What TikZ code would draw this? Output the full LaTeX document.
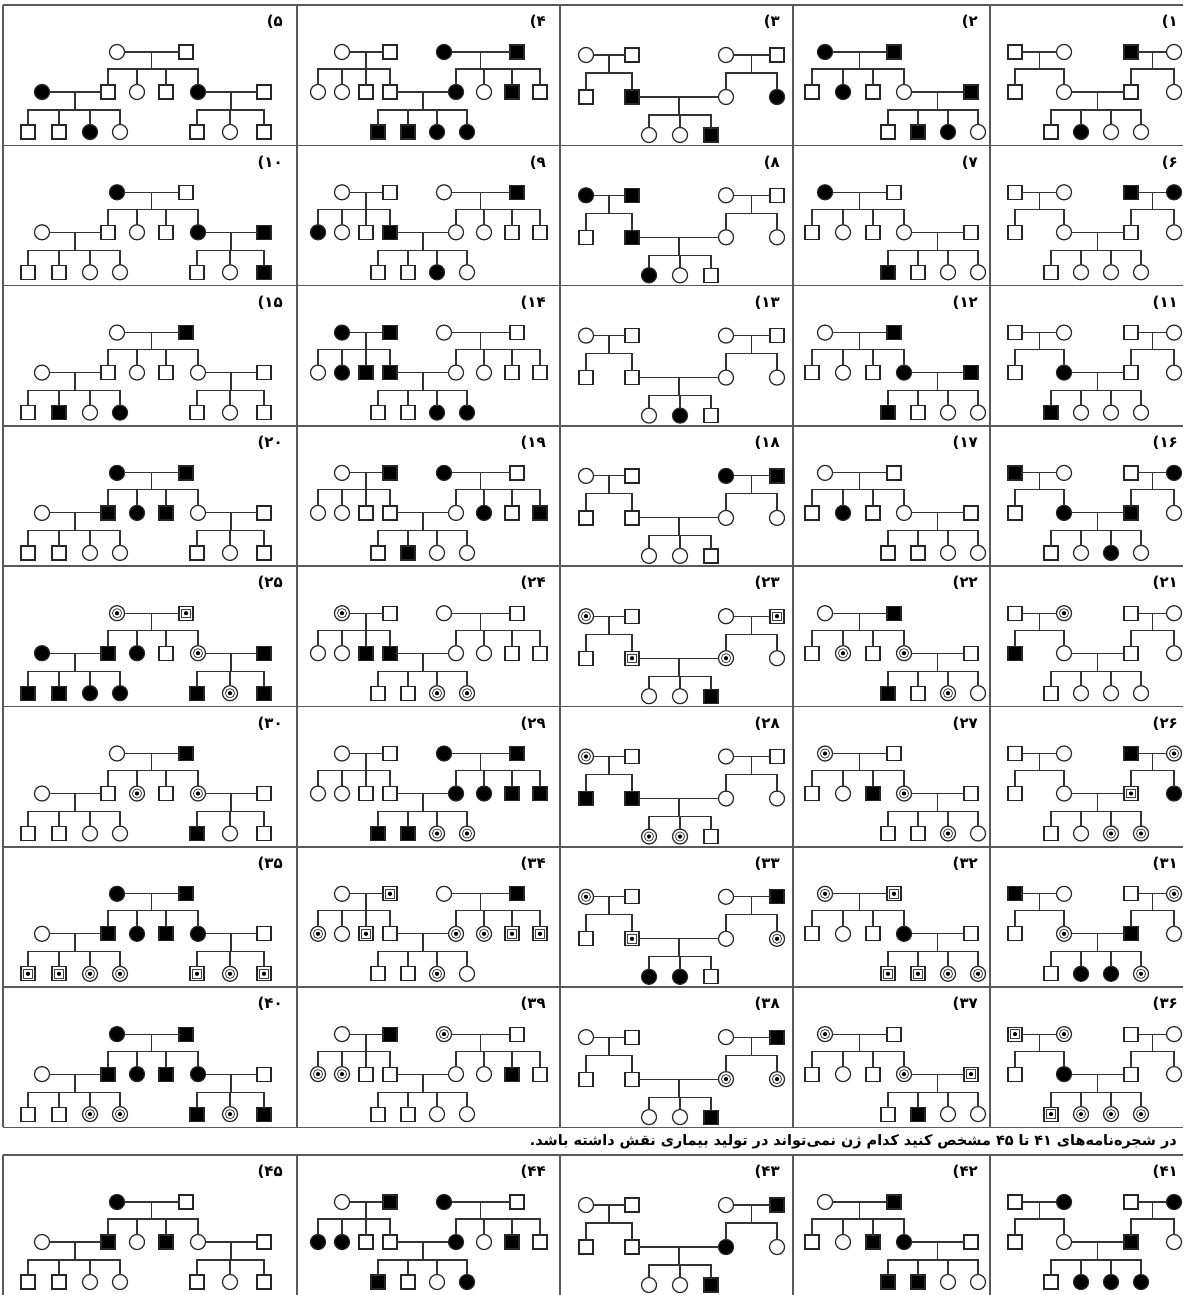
\documentclass[tikz,border=0pt]{standalone}
\usepackage{fontspec}
\usetikzlibrary{calc}
\newfontfamily\fa[Script=Arabic]{DejaVu Sans}
\newfontfamily\fd{DejaVu Sans}
\TeXXeTstate=1
\makeatletter
\newcount\pidx
\def\setcodes#1{\pidx=0 \setcodes@#1\relax}
\def\setcodes@#1{\ifx#1\relax\else\advance\pidx by 1\relax\expandafter\def\csname st\the\pidx\endcsname{#1}\expandafter\setcodes@\fi}
\makeatother
\tikzset{
 base/.style={draw=black!85, line width=1.2pt, inner sep=0pt, outer sep=0pt},
 Mw/.style={base, rectangle, minimum size=14pt, fill=white},
 Ma/.style={base, rectangle, minimum size=14pt, fill=black},
 Mc/.style={Mw, path picture={\draw[line width=0.8pt, draw=black!75, fill=none] (path picture bounding box.center) +(-4.3pt,-4.3pt) rectangle +(4.3pt,4.3pt); \fill[fill=black] (path picture bounding box.center) circle (2.1pt);}},
 Fw/.style={base, circle, minimum size=15pt, fill=white},
 Fa/.style={base, circle, minimum size=15pt, fill=black},
 Fc/.style={Fw, path picture={\draw[line width=0.8pt, draw=black!75, fill=none] (path picture bounding box.center) circle (4.6pt); \fill[fill=black] (path picture bounding box.center) circle (2.1pt);}},
 ln/.style={draw=black!80, line width=1.1pt, line cap=rect},
 lab/.style={font=\fd\bfseries\fontsize{15}{17}\selectfont, anchor=east, inner sep=0pt},
 gridln/.style={draw=black!65, line width=1.6pt}
}
\newcommand\sy[5]{\edef\tmpnode{\noexpand\node[#1\csname st#2\endcsname] (#5) at (#3,#4) {};}\tmpnode}
\newcommand\cpl[2]{\draw[ln] (#1) -- (#2);}
\newcommand\pfam[6]{%
 \coordinate (fm) at ($(#1)!0.5!(#2)$);
 \draw[ln] (fm) -- (fm |- 0,#3);
 \draw[ln] (#4.north |- 0,#3) -- (#5.north |- 0,#3);
 \foreach \k in {#6}{\draw[ln] (\k.north) -- (\k.north |- 0,#3);}}
% column 1 template
\newcommand\pedA[4]{\setcodes{#3}%
 \sy{M}{1}{1015}{#2+47}{p#1-1}\sy{F}{2}{1064}{#2+47}{p#1-2}
 \sy{M}{3}{1131}{#2+47}{p#1-3}\sy{F}{4}{1174}{#2+47}{p#1-4}
 \sy{M}{5}{1015}{#2+87}{p#1-5}\sy{F}{6}{1064}{#2+87}{p#1-6}
 \sy{M}{7}{1131}{#2+87}{p#1-7}\sy{F}{8}{1174}{#2+87}{p#1-8}
 \sy{M}{9}{1051}{#2+127}{p#1-9}\sy{F}{10}{1081}{#2+127}{p#1-10}
 \sy{F}{11}{1111}{#2+127}{p#1-11}\sy{F}{12}{1141}{#2+127}{p#1-12}
 \cpl{p#1-1}{p#1-2}\cpl{p#1-3}{p#1-4}\cpl{p#1-6}{p#1-7}
 \pfam{p#1-1}{p#1-2}{#2+64}{p#1-5}{p#1-6}{p#1-5,p#1-6}
 \pfam{p#1-3}{p#1-4}{#2+64}{p#1-7}{p#1-8}{p#1-7,p#1-8}
 \pfam{p#1-6}{p#1-7}{#2+105}{p#1-9}{p#1-12}{p#1-9,p#1-10,p#1-11,p#1-12}
 \node[lab] (L#1) at (1178,#2+17) {(#4};}
% column 2 template
\newcommand\pedB[4]{\setcodes{#3}%
 \sy{F}{1}{825}{#2+47}{p#1-1}\sy{M}{2}{894}{#2+47}{p#1-2}
 \sy{M}{3}{812}{#2+87}{p#1-3}\sy{F}{4}{843}{#2+87}{p#1-4}
 \sy{M}{5}{873}{#2+87}{p#1-5}\sy{F}{6}{904}{#2+87}{p#1-6}
 \sy{M}{7}{971}{#2+87}{p#1-7}
 \sy{M}{8}{888}{#2+127}{p#1-8}\sy{M}{9}{918}{#2+127}{p#1-9}
 \sy{F}{10}{948}{#2+127}{p#1-10}\sy{F}{11}{978}{#2+127}{p#1-11}
 \cpl{p#1-1}{p#1-2}\cpl{p#1-6}{p#1-7}
 \pfam{p#1-1}{p#1-2}{#2+64}{p#1-3}{p#1-6}{p#1-3,p#1-4,p#1-5,p#1-6}
 \pfam{p#1-6}{p#1-7}{#2+105}{p#1-8}{p#1-11}{p#1-8,p#1-9,p#1-10,p#1-11}
 \node[lab] (L#1) at (978,#2+17) {(#4};}
% column 3 template
\newcommand\pedC[4]{\setcodes{#3}%
 \sy{F}{1}{586}{#2+50}{p#1-1}\sy{M}{2}{632}{#2+50}{p#1-2}
 \sy{F}{3}{726}{#2+50}{p#1-3}\sy{M}{4}{777}{#2+50}{p#1-4}
 \sy{M}{5}{586}{#2+92}{p#1-5}\sy{M}{6}{632}{#2+92}{p#1-6}
 \sy{F}{7}{726}{#2+92}{p#1-7}\sy{F}{8}{777}{#2+92}{p#1-8}
 \sy{F}{9}{649}{#2+130}{p#1-9}\sy{F}{10}{680}{#2+130}{p#1-10}
 \sy{M}{11}{711}{#2+130}{p#1-11}
 \cpl{p#1-1}{p#1-2}\cpl{p#1-3}{p#1-4}\cpl{p#1-6}{p#1-7}
 \pfam{p#1-1}{p#1-2}{#2+68}{p#1-5}{p#1-6}{p#1-5,p#1-6}
 \pfam{p#1-3}{p#1-4}{#2+68}{p#1-7}{p#1-8}{p#1-7,p#1-8}
 \pfam{p#1-6}{p#1-7}{#2+110}{p#1-9}{p#1-11}{p#1-9,p#1-10,p#1-11}
 \node[lab] (L#1) at (780,#2+17) {(#4};}
% column 4 template
\newcommand\pedD[4]{\setcodes{#3}%
 \sy{F}{1}{342}{#2+47}{p#1-1}\sy{M}{2}{390}{#2+47}{p#1-2}
 \sy{F}{3}{444}{#2+47}{p#1-3}\sy{M}{4}{517}{#2+47}{p#1-4}
 \sy{F}{5}{318}{#2+87}{p#1-5}\sy{F}{6}{342}{#2+87}{p#1-6}
 \sy{M}{7}{366}{#2+87}{p#1-7}\sy{M}{8}{390}{#2+87}{p#1-8}
 \sy{F}{9}{456}{#2+87}{p#1-9}\sy{F}{10}{484}{#2+87}{p#1-10}
 \sy{M}{11}{512}{#2+87}{p#1-11}\sy{M}{12}{540}{#2+87}{p#1-12}
 \sy{M}{13}{378}{#2+127}{p#1-13}\sy{M}{14}{408}{#2+127}{p#1-14}
 \sy{F}{15}{437}{#2+127}{p#1-15}\sy{F}{16}{467}{#2+127}{p#1-16}
 \cpl{p#1-1}{p#1-2}\cpl{p#1-3}{p#1-4}\cpl{p#1-8}{p#1-9}
 \pfam{p#1-1}{p#1-2}{#2+64}{p#1-5}{p#1-8}{p#1-5,p#1-6,p#1-7,p#1-8}
 \pfam{p#1-3}{p#1-4}{#2+64}{p#1-9}{p#1-12}{p#1-9,p#1-10,p#1-11,p#1-12}
 \pfam{p#1-8}{p#1-9}{#2+105}{p#1-13}{p#1-16}{p#1-13,p#1-14,p#1-15,p#1-16}
 \node[lab] (L#1) at (546,#2+17) {(#4};}
% column 5 template
\newcommand\pedE[4]{\setcodes{#3}%
 \sy{F}{1}{117}{#2+47}{p#1-1}\sy{M}{2}{186}{#2+47}{p#1-2}
 \sy{F}{3}{42}{#2+87}{p#1-3}\sy{M}{4}{108}{#2+87}{p#1-4}
 \sy{F}{5}{137}{#2+87}{p#1-5}\sy{M}{6}{166}{#2+87}{p#1-6}
 \sy{F}{7}{198}{#2+87}{p#1-7}\sy{M}{8}{264}{#2+87}{p#1-8}
 \sy{M}{9}{28}{#2+127}{p#1-9}\sy{M}{10}{59}{#2+127}{p#1-10}
 \sy{F}{11}{90}{#2+127}{p#1-11}\sy{F}{12}{120}{#2+127}{p#1-12}
 \sy{M}{13}{197}{#2+127}{p#1-13}\sy{F}{14}{230}{#2+127}{p#1-14}
 \sy{M}{15}{264}{#2+127}{p#1-15}
 \cpl{p#1-1}{p#1-2}\cpl{p#1-3}{p#1-4}\cpl{p#1-7}{p#1-8}
 \pfam{p#1-1}{p#1-2}{#2+64}{p#1-4}{p#1-7}{p#1-4,p#1-5,p#1-6,p#1-7}
 \pfam{p#1-3}{p#1-4}{#2+105}{p#1-9}{p#1-12}{p#1-9,p#1-10,p#1-11,p#1-12}
 \pfam{p#1-7}{p#1-8}{#2+105}{p#1-13}{p#1-15}{p#1-13,p#1-14,p#1-15}
 \node[lab] (L#1) at (283,#2+17) {(#4};}
\def\rowA{5}\def\rowB{145.3}\def\rowC{285.6}\def\rowD{425.9}\def\rowE{566.2}
\def\rowF{706.5}\def\rowG{846.8}\def\rowH{987.1}\def\rowI{1155}
\begin{document}
\begin{tikzpicture}[x=1pt,y=-1pt]
\fill[white] (0,0) rectangle (1183,1295);
\useasboundingbox (0,0) rectangle (1183,1295);
% table grid
\foreach \y in {5,145.3,285.6,425.9,566.2,706.5,846.8,987.1,1127.4} \draw[gridln] (3,\y) -- (1183,\y);
\foreach \x in {3,297,560,793,990} \draw[gridln] (\x,5) -- (\x,1127.4);
\draw[gridln] (3,1155) -- (1183,1155);
\foreach \x in {3,297,560,793,990} \draw[gridln] (\x,1155) -- (\x,1295);
% row 1
\pedA{1}{\rowA}{ww aw ww ww waww}{۱}
\pedB{2}{\rowA}{aa wawwa waaw}{۲}
\pedC{3}{\rowA}{ww ww wa wa wwa}{۳}
\pedD{4}{\rowA}{ww aa wwww awaw aaaa}{۴}
\pedE{5}{\rowA}{ww a wwwa w wwaw www}{۵}
% row 2
\pedA{6}{\rowB}{ww aa ww ww wwww}{۶}
\pedB{7}{\rowB}{aw wwww w awww}{۷}
\pedC{8}{\rowB}{aa ww wa ww aww}{۸}
\pedD{9}{\rowB}{ww wa awwa wwww wwaw}{۹}
\pedE{10}{\rowB}{aw w wwwa a wwww wwa}{۱۰}
% row 3
\pedA{11}{\rowC}{ww ww wa ww awww}{۱۱}
\pedB{12}{\rowC}{wa wwwa a awww}{۱۲}
\pedC{13}{\rowC}{ww ww ww ww waw}{۱۳}
\pedD{14}{\rowC}{aa ww waaa wwww wwaa}{۱۴}
\pedE{15}{\rowC}{wa w wwww w wawa www}{۱۵}
% row 4
\pedA{16}{\rowD}{aw wa wa aw wwaw}{۱۶}
\pedB{17}{\rowD}{ww waww w wwww}{۱۷}
\pedC{18}{\rowD}{ww aa ww ww www}{۱۸}
\pedD{19}{\rowD}{wa aw wwww wawa waww}{۱۹}
\pedE{20}{\rowD}{aa w aaaw w wwww www}{۲۰}
% row 5
\pedA{21}{\rowE}{wc ww aw ww wwww}{۲۱}
\pedB{22}{\rowE}{wa wcwc w awcw}{۲۲}
\pedC{23}{\rowE}{cw wc wc cw wwa}{۲۳}
\pedD{24}{\rowE}{cw ww wwaa wwww wwcc}{۲۴}
\pedE{25}{\rowE}{cc a aawc a aaaa aca}{۲۵}
% row 6
\pedA{26}{\rowF}{ww ac ww ca wwcc}{۲۶}
\pedB{27}{\rowF}{cw wwac w wwcw}{۲۷}
\pedC{28}{\rowF}{cw ww aa ww ccw}{۲۸}
\pedD{29}{\rowF}{ww aa wwww aaaa aacc}{۲۹}
\pedE{30}{\rowF}{wa w wcwc w wwww aww}{۳۰}
% row 7
\pedA{31}{\rowG}{aw wc wc aw waac}{۳۱}
\pedB{32}{\rowG}{cc wwwa w cccc}{۳۲}
\pedC{33}{\rowG}{cw wa wc wc aaw}{۳۳}
\pedD{34}{\rowG}{wc wa cwcw cccc wwcw}{۳۴}
\pedE{35}{\rowG}{aa w aaaa w cccc ccc}{۳۵}
% row 8
\pedA{36}{\rowH}{cc ww wa ww cccc}{۳۶}
\pedB{37}{\rowH}{cw wwwc c waww}{۳۷}
\pedC{38}{\rowH}{ww wa ww cc wwa}{۳۸}
\pedD{39}{\rowH}{wa cw ccww wwaw wwww}{۳۹}
\pedE{40}{\rowH}{aa w aaaa w wwcc aca}{۴۰}
% question line
\node[font=\fa\bfseries\fontsize{14.4}{16}\selectfont, anchor=east, inner sep=0pt] (q) at (1177,1142) {\beginR در شجره^^^^200cنامه^^^^200cهای \beginL ۴۱\endL{} تا \beginL ۴۵\endL{} مشخص کنید کدام ژن نمی^^^^200cتواند در تولید بیماری نقش داشته باشد.\endR};
% row 9
\pedA{41}{\rowI}{wa wa ww aw waaa}{۴۱}
\pedB{42}{\rowI}{wa wwaa w aaww}{۴۲}
\pedC{43}{\rowI}{ww wa ww aw wwa}{۴۳}
\pedD{44}{\rowI}{wa aw aaww awaw awwa}{۴۴}
\pedE{45}{\rowI}{aw w awaw w wwww www}{۴۵}
\end{tikzpicture}
\end{document}
